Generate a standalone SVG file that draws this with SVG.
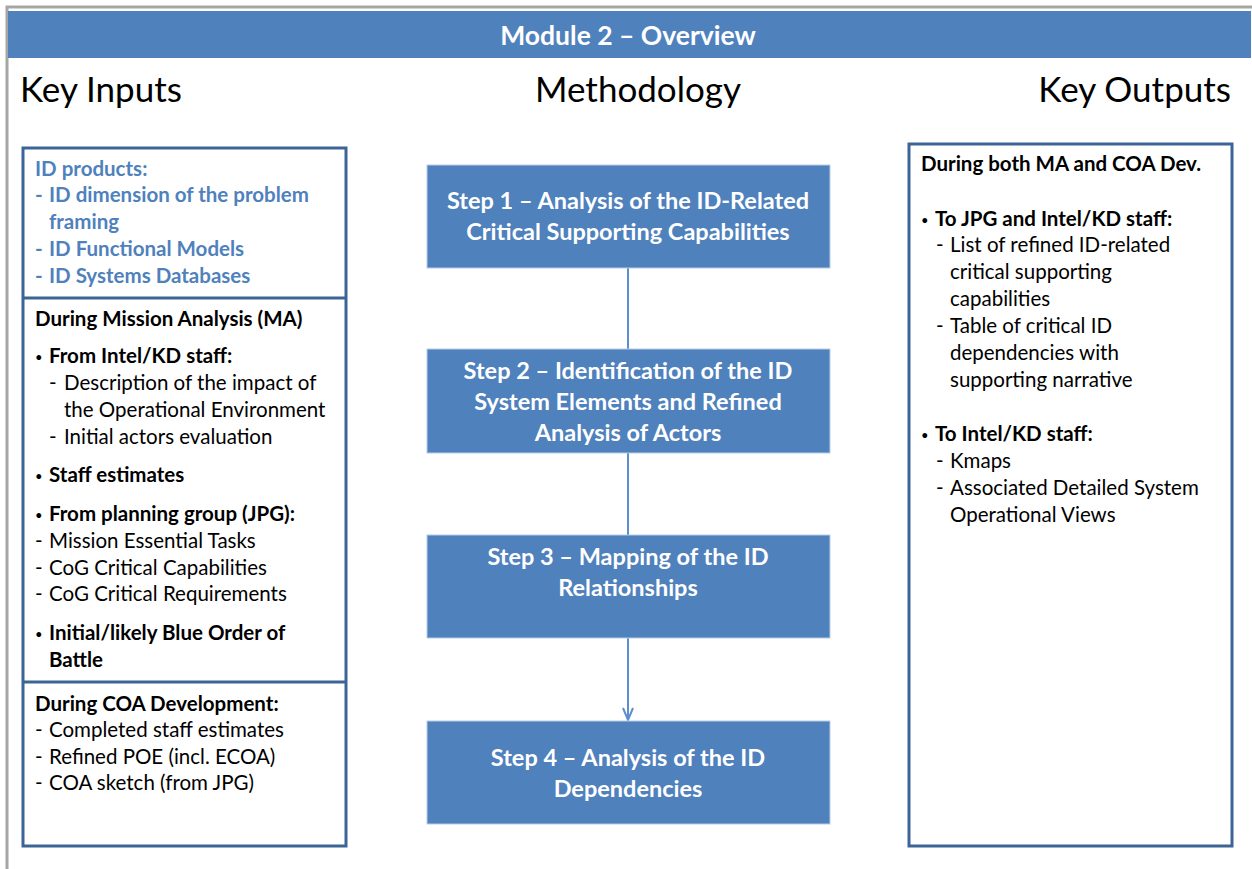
<svg xmlns="http://www.w3.org/2000/svg" width="1252" height="869" viewBox="0 0 1252 869">
<defs>
<style>
text{font-family:Lato,"Liberation Sans",sans-serif;}
.hdr{fill:#fff;font-weight:bold;font-size:26.5px;}
.col{fill:#000;font-size:35px;}
.box{fill:#fff;stroke:#3C6497;stroke-width:3;}
.div{stroke:#3C6497;stroke-width:3;}
.step{fill:#4F81BD;stroke:#B9CDE5;stroke-width:1;}
.st{fill:#fff;font-weight:bold;font-size:23.5px;text-anchor:middle;}
.t{fill:#000;font-size:20.5px;}
.b{fill:#000;font-size:20.5px;font-weight:bold;}
.bl{fill:#4F81BD;font-size:20.5px;font-weight:bold;}
.bu{fill:#000;font-size:13px;}
.conn{stroke:#5B8FD0;stroke-width:2;fill:none;}
</style>
<marker id="arr" markerWidth="16" markerHeight="12" refX="14" refY="6" orient="auto" markerUnits="userSpaceOnUse">
<path d="M2,1 L14,6 L2,11" fill="none" stroke="#5B8FD0" stroke-width="2"/>
</marker>
</defs>
<rect width="1252" height="869" fill="#fff"/>
<path d="M7,869 V7 H1252" fill="none" stroke="#A6A6A6" stroke-width="3"/>
<g id="header">
<rect x="8" y="11" width="1243" height="47" fill="#4F81BD"/>
<text class="hdr" x="628" y="45" text-anchor="middle">Module 2 – Overview</text>
</g>
<g id="col-titles">
<text class="col" x="20" y="102">Key Inputs</text>
<text class="col" x="638" y="102" text-anchor="middle">Methodology</text>
<text class="col" x="1231" y="102" text-anchor="end">Key Outputs</text>
</g>
<g id="connectors">
<line class="conn" x1="628" y1="268" x2="628" y2="349"/>
<line class="conn" x1="628" y1="453" x2="628" y2="535"/>
<line class="conn" x1="628" y1="638" x2="628" y2="720" marker-end="url(#arr)"/>
</g>
<g id="key-inputs">
<rect class="box" x="23" y="148" width="323" height="698"/>
<line class="div" x1="23" y1="298" x2="346" y2="298"/>
<line class="div" x1="23" y1="682" x2="346" y2="682"/>
<text class="bl" x="35" y="176">ID products:</text>
<text class="bl" x="35" y="202">-</text><text class="bl" x="49" y="202">ID dimension of the problem</text>
<text class="bl" x="49" y="229">framing</text>
<text class="bl" x="35" y="256">-</text><text class="bl" x="49" y="256">ID Functional Models</text>
<text class="bl" x="35" y="283">-</text><text class="bl" x="49" y="283">ID Systems Databases</text>
<text class="b" x="35" y="326">During Mission Analysis (MA)</text>
<text class="bu" x="35" y="362">•</text><text class="b" x="49" y="363">From Intel/KD staff:</text>
<text class="t" x="49" y="390">-</text><text class="t" x="64" y="390">Description of the impact of</text>
<text class="t" x="64" y="417">the Operational Environment</text>
<text class="t" x="49" y="444">-</text><text class="t" x="64" y="444">Initial actors evaluation</text>
<text class="bu" x="35" y="481">•</text><text class="b" x="49" y="482">Staff estimates</text>
<text class="bu" x="35" y="520">•</text><text class="b" x="49" y="521">From planning group (JPG):</text>
<text class="t" x="35" y="548">-</text><text class="t" x="49" y="548">Mission Essential Tasks</text>
<text class="t" x="35" y="575">-</text><text class="t" x="49" y="575">CoG Critical Capabilities</text>
<text class="t" x="35" y="601">-</text><text class="t" x="49" y="601">CoG Critical Requirements</text>
<text class="bu" x="35" y="639">•</text><text class="b" x="49" y="640">Initial/likely Blue Order of</text>
<text class="b" x="49" y="667">Battle</text>
<text class="b" x="35" y="711">During COA Development:</text>
<text class="t" x="35" y="737">-</text><text class="t" x="49" y="737">Completed staff estimates</text>
<text class="t" x="35" y="764">-</text><text class="t" x="49" y="764">Refined POE (incl. ECOA)</text>
<text class="t" x="35" y="790">-</text><text class="t" x="49" y="790">COA sketch (from JPG)</text>
</g>
<g id="step1">
<rect class="step" x="427" y="165" width="403" height="103"/>
<text class="st" x="628" y="209">Step 1 – Analysis of the ID-Related</text>
<text class="st" x="628" y="240">Critical Supporting Capabilities</text>
</g>
<g id="step2">
<rect class="step" x="427" y="349" width="403" height="104"/>
<text class="st" x="628" y="379">Step 2 – Identification of the ID</text>
<text class="st" x="628" y="410">System Elements and Refined</text>
<text class="st" x="628" y="441">Analysis of Actors</text>
</g>
<g id="step3">
<rect class="step" x="427" y="535" width="403" height="103"/>
<text class="st" x="628" y="565">Step 3 – Mapping of the ID</text>
<text class="st" x="628" y="596">Relationships</text>
</g>
<g id="step4">
<rect class="step" x="427" y="721" width="403" height="103"/>
<text class="st" x="628" y="766">Step 4 – Analysis of the ID</text>
<text class="st" x="628" y="797">Dependencies</text>
</g>
<g id="key-outputs">
<rect class="box" x="909" y="144" width="323" height="702"/>
<text class="b" x="921" y="171">During both MA and COA Dev.</text>
<text class="bu" x="921" y="225">•</text><text class="b" x="935" y="226">To JPG and Intel/KD staff:</text>
<text class="t" x="936" y="252">-</text><text class="t" x="950" y="252">List of refined ID-related</text>
<text class="t" x="950" y="279">critical supporting</text>
<text class="t" x="950" y="306">capabilities</text>
<text class="t" x="936" y="333">-</text><text class="t" x="950" y="333">Table of critical ID</text>
<text class="t" x="950" y="360">dependencies with</text>
<text class="t" x="950" y="387">supporting narrative</text>
<text class="bu" x="921" y="440">•</text><text class="b" x="935" y="441">To Intel/KD staff:</text>
<text class="t" x="936" y="468">-</text><text class="t" x="950" y="468">Kmaps</text>
<text class="t" x="936" y="495">-</text><text class="t" x="950" y="495">Associated Detailed System</text>
<text class="t" x="950" y="522">Operational Views</text>
</g>
</svg>
